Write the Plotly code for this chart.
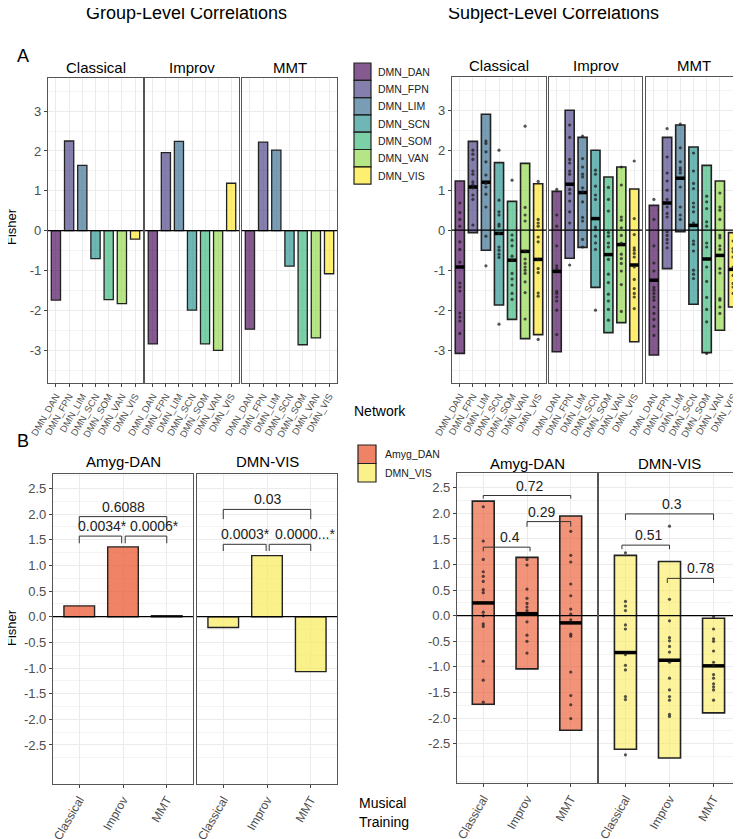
import plotly.graph_objects as go

W, H = 741, 839
# the page body adds an 8px margin, so the figure is drawn 8px smaller and offset
OX, OY = 8, 8
FW, FH = W - OX, H - OY
FONT = "Liberation Sans, Arial, sans-serif"

networks = ["DMN_DAN", "DMN_FPN", "DMN_LIM", "DMN_SCN", "DMN_SOM", "DMN_VAN", "DMN_VIS"]
trainings = ["Classical", "Improv", "MMT"]
pairs = ["Amyg-DAN", "DMN-VIS"]
pair_keys = ["Amyg_DAN", "DMN_VIS"]

net_colors = ["rgba(68,1,84,0.65)", "rgba(68,58,131,0.65)", "rgba(49,104,142,0.65)",
              "rgba(33,144,140,0.65)", "rgba(53,183,121,0.65)", "rgba(143,215,68,0.65)",
              "rgba(253,231,37,0.65)"]
pair_colors_group = ["rgba(235,90,50,0.75)", "rgba(250,235,90,0.7)"]
pair_colors_subj = ["rgba(235,90,50,0.65)", "rgba(250,235,90,0.6)"]

# ---- A: group-level Fisher values per network
group_classical = [-1.74, 2.25, 1.64, -0.70, -1.73, -1.83, -0.21]
group_improv = [-2.84, 1.96, 2.24, -1.99, -2.84, -3.00, 1.19]
group_mmt = [-2.47, 2.22, 2.02, -0.89, -2.86, -2.69, -1.08]

# ---- A: subject-level (bar = range, line = median, dots = subjects)
subj_classical_low = [-3.08, -0.06, -0.50, -1.87, -2.23, -2.71, -2.61]
subj_classical_high = [1.23, 2.22, 2.90, 1.69, 0.72, 1.67, 1.16]
subj_classical_median = [-0.92, 1.08, 1.20, -0.08, -0.75, -0.53, -0.73]
subj_classical_points = [
    [0.68, 0.44, 0.27, 0.10, -0.29, -0.48, -0.80, -1.32, -1.42, -1.52, -2.07, -2.17, -2.27, -2.58],
    [2.00, 1.90, 1.77, 1.48, 1.40, 1.21, 1.14, 1.06, 0.88, 0.77, 0.13],
    [2.23, 2.17, 1.96, 1.71, 1.38, 1.17, 1.08, 0.90, 0.58, -0.15, -0.89],
    [2.00, 0.75, 0.46, 0.38, 0.15, 0.10, -0.08, -0.42, -0.50, -0.60, -0.68, -2.35],
    [1.25, -0.12, -0.25, -0.39, -0.65, -0.75, -1.08, -1.22, -1.37, -1.58, -1.73],
    [2.60, 0.57, 0.38, 0.23, -0.52, -0.72, -0.83, -0.92, -1.00, -1.08, -1.29, -1.56, -2.22],
    [1.22, 0.27, 0.18, 0.10, -0.17, -0.29, -0.73, -0.96, -1.06, -1.57, -1.65, -2.73],
]
subj_improv_low = [-3.04, -0.70, -0.43, -1.43, -2.56, -2.31, -2.79]
subj_improv_high = [0.97, 3.00, 2.32, 2.00, 1.33, 1.58, 1.03]
subj_improv_median = [-1.03, 1.15, 0.94, 0.29, -0.61, -0.36, -0.87]
subj_improv_points = [
    [1.02, 0.38, 0.10, -0.39, -0.89, -0.96, -1.53, -1.58, -1.67, -1.77, -2.00, -2.61],
    [2.63, 2.32, 1.77, 1.68, 1.48, 1.40, 1.02, 0.92, 0.73, 0.46, 0.18, -0.87],
    [2.35, 1.79, 1.58, 1.40, 1.33, 1.06, 0.96, 0.71, 0.32, 0.23, -0.23, -0.42],
    [1.50, 1.40, 1.10, 0.88, 0.77, 0.08, 0.02, -0.15, -0.32, -0.48, -2.00],
    [1.07, 0.77, 0.48, -0.06, -0.15, -0.32, -0.42, -0.73, -1.10, -1.31, -1.60, -1.77, -1.98, -2.25],
    [1.58, 1.13, 0.33, 0.25, 0.06, -0.13, -0.32, -0.60, -0.71, -0.83, -1.02, -1.36, -2.03],
    [1.73, 0.29, -0.11, -0.44, -0.50, -0.58, -0.67, -0.92, -1.23, -1.46, -1.58, -1.67, -1.96],
]
subj_mmt_low = [-3.12, -0.96, -0.04, -1.85, -3.06, -2.50, -1.92]
subj_mmt_high = [0.62, 2.32, 2.63, 2.08, 1.62, 1.23, -0.06]
subj_mmt_median = [-1.25, 0.68, 1.30, 0.12, -0.72, -0.63, -0.98]
subj_mmt_points = [
    [0.77, 0.27, -0.39, -0.82, -1.02, -1.43, -1.50, -1.58, -1.67, -1.75, -1.92, -2.08, -2.23, -2.40, -2.63],
    [2.54, 1.83, 1.43, 1.23, 1.00, 0.77, 0.58, 0.42, 0.33, -0.04, -0.13, -0.23, -0.32, -0.44],
    [2.65, 2.06, 1.71, 1.56, 1.50, 1.43, 1.08, 0.58, 0.38, 0.27],
    [1.93, 1.48, 1.17, 1.04, 0.68, 0.58, 0.46, 0.18, -0.27, -0.35, -0.52, -1.00, -1.10, -1.21],
    [0.85, 0.71, 0.54, 0.21, 0.10, -0.32, -0.42, -0.92, -1.28, -1.68, -1.98, -2.29, -3.08],
    [0.93, 0.58, 0.50, 0.27, -0.13, -0.19, -0.39, -0.48, -0.96, -1.07, -1.71, -1.75, -1.92, -2.08],
    [-0.27, -0.46, -0.54, -0.67, -0.92, -1.13, -1.33, -1.42, -1.58],
]

# ---- B: group-level
amyg_dan_group = [0.21, 1.36, 0.02]
dmn_vis_group = [-0.21, 1.19, -1.07]

# ---- B: subject-level
amyg_dan_low = [-1.73, -1.04, -2.24]
amyg_dan_high = [2.24, 1.14, 1.95]
amyg_dan_median = [0.25, 0.04, -0.14]
amyg_dan_points = [
    [2.13, 1.46, 1.10, 0.86, 0.77, 0.67, 0.51, 0.45, 0.07, 0.0, -0.16, -0.21, -0.89, -1.26, -1.69],
    [1.10, 0.99, 0.52, 0.34, 0.24, 0.17, 0.10, -0.12, -0.38, -0.50, -0.73],
    [1.65, 1.18, 1.05, 0.62, 0.39, 0.13, 0.03, -0.08, -0.36, -0.40, -1.10, -1.56, -1.74, -2.01],
]
dmn_vis_low = [-2.61, -2.78, -1.90]
dmn_vis_high = [1.18, 1.06, -0.05]
dmn_vis_median = [-0.72, -0.87, -0.98]
dmn_vis_points = [
    [1.23, 0.28, 0.19, 0.10, -0.18, -0.26, -0.76, -0.97, -1.06, -1.58, -1.64, -2.72],
    [1.75, 0.32, -0.10, -0.43, -0.49, -0.60, -0.71, -0.91, -1.22, -1.45, -1.58, -1.65, -1.93, -1.97],
    [-0.02, -0.26, -0.45, -0.50, -0.69, -0.91, -0.98, -1.15, -1.22, -1.33, -1.39, -1.45, -1.65],
]

# significance brackets: (axis, x0, x1, y, leg, label, label_x)
group_brackets = [
    (7, 0, 2, 1.95, 0.17, "0.6088", 1.02),
    (7, 0, 0.97, 1.57, 0.14, "0.0034*", 0.52),
    (7, 1.05, 2, 1.57, 0.14, "0.0006*", 1.72),
    (8, 0, 2, 2.09, 0.19, "0.03", 1.0),
    (8, 0, 0.98, 1.41, 0.13, "0.0003*", 0.5),
    (8, 1.05, 2, 1.41, 0.13, "0.0000...*", 1.86),
]
subj_brackets = [
    (9, 0, 2, 2.35, 0.06, "0.72", 1.05),
    (9, 1, 2, 1.84, 0.10, "0.29", 1.34),
    (9, 0, 1.07, 1.34, 0.08, "0.4", 0.6),
    (10, 0, 2, 1.99, 0.12, "0.3", 1.05),
    (10, -0.08, 1, 1.38, 0.08, "0.51", 0.53),
    (10, 0.95, 2, 0.73, 0.09, "0.78", 1.71),
]


def px_x(a):
    return (a - OX) / FW


def px_y(b):
    return 1 - (b - OY) / FH


def dom_x(a, b):
    return [px_x(a), min(px_x(b), 1)]


def dom_y(top, bottom):
    return [px_y(bottom), px_y(top)]


def ax(n):
    return ("x" if n == 1 else f"x{n}"), ("y" if n == 1 else f"y{n}")


fig = go.Figure()

top_ticks = [-3, -2, -1, 0, 1, 2, 3]
top_minor = [-3.5, -2.5, -1.5, -0.5, 0.5, 1.5, 2.5, 3.5]
bot_ticks = [-2.5, -2.0, -1.5, -1.0, -0.5, 0.0, 0.5, 1.0, 1.5, 2.0, 2.5]
bot_minor = [-3.25, -2.75, -2.25, -1.75, -1.25, -0.75, -0.25, 0.25, 0.75, 1.25, 1.75, 2.25, 2.75]


def setup(n, xdom, ydom, labels, yr, yt, ylab, ym, show_y, xsize):
    xn, yn = ax(n)
    xkey = "xaxis" if n == 1 else f"xaxis{n}"
    ykey = "yaxis" if n == 1 else f"yaxis{n}"
    ncat = len(labels)
    fig.layout[xkey] = dict(
        domain=xdom, anchor=yn, range=[-0.6, ncat - 0.4], automargin=False,
        tickvals=list(range(ncat)), ticktext=labels, tickangle=-60,
        tickfont=dict(size=xsize, color="#4d4d4d", family=FONT),
        showgrid=True, gridcolor="#ebebeb", gridwidth=1, zeroline=False,
        showline=True, mirror=True, linecolor="#555", linewidth=1.2,
        ticks="outside", ticklen=3, tickcolor="#444", fixedrange=True,
    )
    fig.layout[ykey] = dict(
        domain=ydom, anchor=xn, range=yr, automargin=False,
        tickvals=yt, ticktext=ylab, showticklabels=show_y,
        tickfont=dict(size=13, color="#4d4d4d", family=FONT),
        showgrid=True, gridcolor="#ebebeb", gridwidth=1, zeroline=False,
        minor=dict(tickvals=ym, showgrid=True, gridcolor="#f3f3f3", gridwidth=0.8, ticks=""),
        showline=True, mirror=True, linecolor="#555", linewidth=1.2,
        ticks="outside" if show_y else "", ticklen=3, tickcolor="#444", fixedrange=True,
    )
    fig.add_shape(type="line", xref=f"{xn} domain", yref=yn, x0=0, x1=1, y0=0, y1=0,
                  line=dict(color="black", width=1.2), layer="above")


top_lab = [str(v) for v in top_ticks]
bot_lab = [f"{v:.1f}" for v in bot_ticks]

# A, group-level
gl_x = [(48, 143), (145, 239), (242, 337)]
for k, vals in enumerate([group_classical, group_improv, group_mmt]):
    n = k + 1
    setup(n, dom_x(*gl_x[k]), dom_y(78, 383), networks, [-3.82, 3.83], top_ticks, top_lab,
          top_minor, k == 0, 9.5)
    xn, yn = ax(n)
    fig.add_trace(go.Bar(x=list(range(7)), y=vals, width=0.7, xaxis=xn, yaxis=yn,
                         marker=dict(color=net_colors, line=dict(color="#222", width=1.3))))

# A, subject-level
sl_x = [(452, 546), (549, 642), (646, 741)]
subj_sets = [
    (subj_classical_low, subj_classical_high, subj_classical_median, subj_classical_points),
    (subj_improv_low, subj_improv_high, subj_improv_median, subj_improv_points),
    (subj_mmt_low, subj_mmt_high, subj_mmt_median, subj_mmt_points),
]


def floating(n, lows, highs, meds, pts, colors, width, lw):
    xn, yn = ax(n)
    m = len(lows)
    fig.add_trace(go.Bar(x=list(range(m)), y=[h - l for l, h in zip(lows, highs)], base=lows,
                         width=width, xaxis=xn, yaxis=yn,
                         marker=dict(color=colors, line=dict(color="#222", width=lw))))
    mx, my = [], []
    for i, md in enumerate(meds):
        mx += [i - width / 2, i + width / 2, None]
        my += [md, md, None]
    fig.add_trace(go.Scatter(x=mx, y=my, mode="lines", xaxis=xn, yaxis=yn,
                             line=dict(color="black", width=3.5)))
    px, py = [], []
    for i, p in enumerate(pts):
        px += [i] * len(p)
        py += p
    fig.add_trace(go.Scatter(x=px, y=py, mode="markers", xaxis=xn, yaxis=yn,
                             marker=dict(color="rgba(30,30,30,0.75)", size=3.2)))


for k, (lo, hi, md, pts) in enumerate(subj_sets):
    n = k + 4
    setup(n, dom_x(*sl_x[k]), dom_y(77, 383), networks, [-3.82, 3.83], top_ticks, top_lab,
          top_minor, k == 0, 9.5)
    floating(n, lo, hi, md, pts, net_colors, 0.7, 1.6)

# B, group-level
bl_x = [(53, 193), (197, 337)]
for k, vals in enumerate([amyg_dan_group, dmn_vis_group]):
    n = k + 7
    setup(n, dom_x(*bl_x[k]), dom_y(474, 784), trainings, [-3.26, 2.78], bot_ticks, bot_lab,
          bot_minor, k == 0, 12)
    xn, yn = ax(n)
    fig.add_trace(go.Bar(x=list(range(3)), y=vals, width=0.7, xaxis=xn, yaxis=yn,
                         marker=dict(color=pair_colors_group[k], line=dict(color="#222", width=1.4))))

# B, subject-level
br_x = [(457, 597), (599, 740)]
pair_sets = [
    (amyg_dan_low, amyg_dan_high, amyg_dan_median, amyg_dan_points),
    (dmn_vis_low, dmn_vis_high, dmn_vis_median, dmn_vis_points),
]
for k, (lo, hi, md, pts) in enumerate(pair_sets):
    n = k + 9
    setup(n, dom_x(*br_x[k]), dom_y(473, 783), trainings, [-3.27, 2.79], bot_ticks, bot_lab,
          bot_minor, k == 0, 12)
    floating(n, lo, hi, md, pts, [pair_colors_subj[k]] * 3, 0.5, 1.6)

# brackets
for (n, x0, x1, y, leg, label, lx) in group_brackets + subj_brackets:
    xn, yn = ax(n)
    fig.add_trace(go.Scatter(x=[x0, x0, x1, x1], y=[y - leg, y, y, y - leg], mode="lines",
                             xaxis=xn, yaxis=yn, line=dict(color="#333", width=1)))
    fig.add_annotation(x=lx, y=y, xref=xn, yref=yn, text=label, showarrow=False,
                       yanchor="bottom", yshift=0,
                       font=dict(size=14, color="#222", family=FONT))

ann = []


def text(x, y, s, size, anchor="center", angle=0, color="black"):
    ann.append(dict(x=px_x(x), y=px_y(y), xref="paper", yref="paper", text=s, showarrow=False,
                    xanchor=anchor, yanchor="middle", textangle=angle,
                    font=dict(size=size, color=color, family=FONT)))


text(186, 13, "Group-Level Correlations", 18)
text(553, 13, "Subject-Level Correlations", 18)
text(15, 56, "A", 18, "left")
text(15, 441, "B", 18, "left")
for k, t in enumerate(trainings):
    text(sum(gl_x[k]) / 2, 67, t, 15)
    text(sum(sl_x[k]) / 2, 66, t, 15)
for k, t in enumerate(pairs):
    text(sum(bl_x[k]) / 2, 461, t, 15)
    text(sum(br_x[k]) / 2, 463, t, 15)
text(12, 227, "Fisher", 13, angle=-90)
text(11, 628, "Fisher", 13, angle=-90)
text(352, 411, "Network", 14, "left")
text(357, 803, "Musical", 14, "left")
text(357, 822, "Training", 14, "left")

# legends (drawn as keys)
for i, name in enumerate(networks):
    y0 = 63 + i * 17.3
    fig.add_shape(type="rect", xref="paper", yref="paper", x0=px_x(354), x1=px_x(371),
                  y0=px_y(y0), y1=px_y(y0 + 17.3), fillcolor=net_colors[i],
                  line=dict(color="#222", width=1.2))
    text(376, y0 + 8.8, name, 10.5, "left", color="#222")
for i, name in enumerate(pair_keys):
    y0 = 445 + i * 18.5
    fig.add_shape(type="rect", xref="paper", yref="paper", x0=px_x(358), x1=px_x(376),
                  y0=px_y(y0), y1=px_y(y0 + 18.5), fillcolor=pair_colors_group[i],
                  line=dict(color="#222", width=1.2))
    text(383, y0 + 9, name, 10.5, "left", color="#222")

for a in ann:
    fig.add_annotation(**a)

fig.update_layout(width=FW, height=FH, margin=dict(l=0, r=0, t=0, b=0),
                  paper_bgcolor="white", plot_bgcolor="white", showlegend=False,
                  font=dict(family=FONT))

fig.write_html("out.html")
